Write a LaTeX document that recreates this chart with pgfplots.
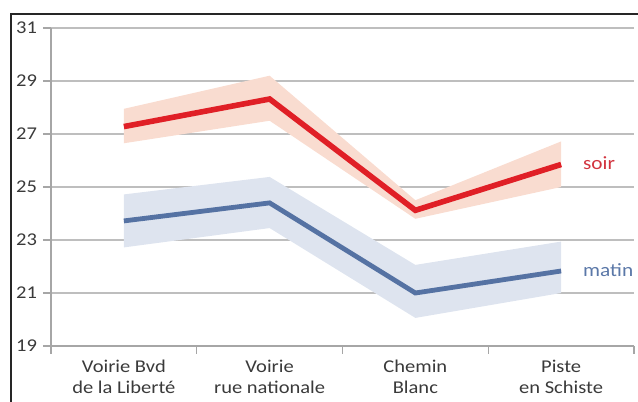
\documentclass[border=0pt]{standalone}
\usepackage{fontspec}
\setmainfont{Carlito}[FakeStretch=1.14]
\usepackage{pgfplots}
\pgfplotsset{compat=1.18}
\definecolor{soirline}{HTML}{E01F26}
\definecolor{soirband}{HTML}{F9DCD0}
\definecolor{matinline}{HTML}{5572A3}
\definecolor{matinband}{HTML}{DEE4EF}
\definecolor{gridc}{HTML}{BEBEBE}
\definecolor{axisc}{HTML}{A6A6A6}
\definecolor{textc}{HTML}{3A3A3A}
\definecolor{soirtext}{HTML}{D2343F}
\definecolor{matintext}{HTML}{5B78A8}
\begin{document}
\begin{tikzpicture}
\path[use as bounding box] (-38.25pt,-42pt) rectangle (440.25pt,259.5pt);
\draw[color=black!85, line width=1.3pt] (-30pt,-43pt) -- (-30pt,249pt) -- (441pt,249pt);
\begin{axis}[
  at={(0,0)}, anchor=south west,
  scale only axis, width=437.25pt, height=238.5pt,
  xmin=-0.5, xmax=3.5, ymin=19, ymax=31,
  axis x line=bottom, axis y line=left,
  axis line style={axisc, line width=1pt, -},
  xtick={0,1,2,3},
  xticklabels={{Voirie Bvd\\de la Libert\'e},{Voirie\\rue nationale},{Chemin\\Blanc},{Piste\\en Schiste}},
  minor xtick={-0.5,0.5,1.5,2.5,3.5},
  major x tick style={draw=none},
  minor x tick style={axisc, line width=1pt},
  ytick={19,21,...,31},
  y tick style={axisc, line width=1pt},
  tick align=outside,
  major tick length=6pt, minor tick length=6pt,
  ymajorgrids, grid style={gridc, line width=1.1pt},
  /pgf/number format/assume math mode=true,
  yticklabel style={font=\fontsize{13.5}{15}\selectfont, text=textc, xshift=-1pt},
  xticklabel style={align=center, font=\fontsize{13.5}{15.75}\selectfont, text=textc, yshift=-1pt},
  clip=false,
]
% bands
\addplot[draw=none, fill=soirband] coordinates {(0,27.95) (1,29.2) (2,24.5) (3,26.72) (3,25.0) (2,23.8) (1,27.5) (0,26.65)} -- cycle;
\addplot[draw=none, fill=matinband] coordinates {(0,24.72) (1,25.38) (2,22.06) (3,22.94) (3,21.0) (2,20.06) (1,23.45) (0,22.72)} -- cycle;
% lines
\addplot[soirline, line width=4.2pt, line join=miter] coordinates {(0,27.28) (1,28.32) (2,24.12) (3,25.85)};
\addplot[matinline, line width=3.6pt, line join=miter] coordinates {(0,23.72) (1,24.4) (2,21.0) (3,21.83)};
\node[anchor=west, text=soirtext, font=\fontsize{14}{14}\selectfont] at (axis cs:3,25.9) [xshift=13pt] {soir};
\node[anchor=west, text=matintext, font=\fontsize{14}{14}\selectfont] at (axis cs:3,21.85) [xshift=13pt] {matin};
\end{axis}
\end{tikzpicture}
\end{document}
